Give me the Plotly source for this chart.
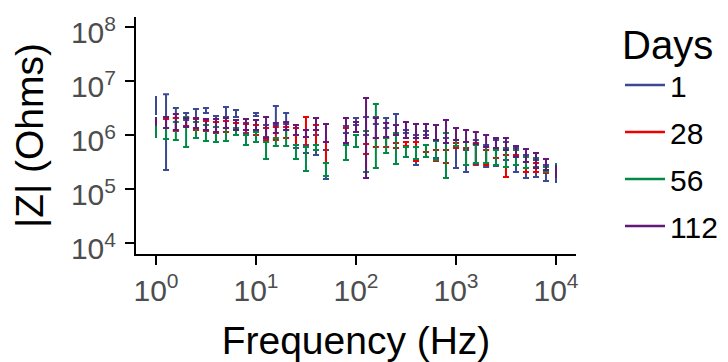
import numpy as np
import plotly.graph_objects as go

# Frequencies (Hz); 63 Hz point absent in the source
freq = [1, 1.26, 1.58, 2.0, 2.51, 3.16, 3.98, 5.01, 6.31, 7.94,
        10, 12.6, 15.8, 20.0, 25.1, 31.6, 39.8, 50.1,
        79.4, 100, 126, 158, 200, 251, 316, 398, 501, 631, 794,
        1000, 1260, 1580, 2000, 2510, 3160, 3980, 5010, 6310, 7940, 10000]

days = ["1", "28", "56", "112"]

d1_lo = [2.35e6, 2.25e5, 2.06e6, 1.9e6, 2.06e6, 2.55e6, 1.74e6, 2.15e6, 2.15e6, 1.09e6,
         2.25e6, 9.2e5, 1.53e6, 1.6e6, 5.75e5, 4.64e5, 4.26e5, 1.53e5,
         1.09e6, 1.53e6, 1.0e6, 1.6e6, 1.35e6, 1.09e6, 1.09e6, 2.78e5, 1.0e6, 3.75e5, 8.8e5,
         2.45e5, 2.06e5, 2.78e5, 2.55e5, 2.67e5, 3.44e5, 2.06e5, 1.6e5, 1.67e5, 1.41e5, 1.29e5]
d1_hi = [5.27e6, 5.7e6, 3.16e6, 2.55e6, 3.03e6, 3.16e6, 2.25e6, 3.3e6, 2.9e6, 1.67e6,
         2.55e6, 1.53e6, 3.44e6, 2.55e6, 1.0e6, 6.5e5, 1.0e6, 5.27e5,
         1.47e6, 2.06e6, 2.15e6, 2.15e6, 2.06e6, 2.45e6, 1.24e6, 1.0e6, 1.19e6, 8.1e5, 1.09e6,
         5.75e5, 5.27e5, 8.1e5, 6.5e5, 8.1e5, 7.4e5, 5.75e5, 4.26e5, 3.44e5, 2.78e5, 2.25e5]

d28_lo = [1.47e6, 1.35e6, 1.19e6, 1.47e6, 1.24e6, 1.19e6, 1.09e6, 1.14e6, 1.0e6, 1.0e6,
          1.0e6, 8.1e5, 8.1e5, 8.8e5, 6.5e5, 6.0e5, 5.27e5, 3.03e5,
          6.5e5, 6.0e5, 4.45e5, 6.0e5, 6.0e5, 5.75e5, 6.25e5, 3.3e5, 4.84e5, 3.3e5, 3.03e5,
          5.75e5, 2.78e5, 2.9e5, 2.78e5, 3.75e5, 1.67e5, 2.78e5, 2.06e5, 2.06e5, 1.98e5, 1.82e5]
d28_hi = [2.06e6, 1.98e6, 2.06e6, 2.06e6, 1.98e6, 1.82e6, 1.74e6, 1.82e6, 1.67e6, 1.6e6,
          1.53e6, 1.35e6, 1.41e6, 1.41e6, 1.35e6, 2.15e6, 1.53e6, 7.4e5,
          1.35e6, 1.0e6, 6.8e5, 8.8e5, 8.8e5, 7.1e5, 7.4e5, 7.4e5, 6.5e5, 5.27e5, 5.27e5,
          7.1e5, 5.75e5, 7.1e5, 5.27e5, 5.27e5, 4.26e5, 4.26e5, 3.16e5, 3.03e5, 2.25e5, 2.45e5]

d56_lo = [8.8e5, 8.4e5, 8.1e5, 6.0e5, 8.8e5, 7.7e5, 7.4e5, 7.7e5, 1.0e6, 6.5e5,
          7.4e5, 3.59e5, 6.25e5, 6.25e5, 3.59e5, 2.15e5, 5.27e5, 1.74e5,
          3.44e5, 6.0e5, 2.06e5, 2.45e5, 4.64e5, 2.9e5, 3.91e5, 3.59e5, 3.91e5, 3.44e5, 1.6e5,
          6.25e5, 2.78e5, 3.03e5, 3.03e5, 2.78e5, 2.55e5, 2.78e5, 2.45e5, 2.55e5, 2.06e5, 1.98e5]
d56_hi = [1.47e6, 1.35e6, 1.74e6, 2.15e6, 1.74e6, 1.53e6, 1.41e6, 1.35e6, 1.35e6, 1.0e6,
          1.14e6, 7.4e5, 8.8e5, 1.24e6, 6.5e5, 6.0e5, 6.5e5, 3.03e5,
          6.5e5, 1.0e6, 1.19e6, 3.75e6, 8.8e5, 1.09e6, 6.0e5, 6.0e5, 6.5e5, 7.7e5, 1.09e6,
          8.1e5, 7.4e5, 6.5e5, 6.0e5, 5.27e5, 5.75e5, 5.27e5, 3.91e5, 3.75e5, 2.55e5, 3.03e5]

d112_lo = [1.47e6, 1.35e6, 1.24e6, 1.41e6, 1.35e6, 1.24e6, 1.14e6, 1.35e6, 1.24e6, 1.24e6,
           1.24e6, 8.8e5, 1.09e6, 1.24e6, 1.0e6, 9.2e5, 1.24e6, 7.4e5,
           7.1e5, 1.14e6, 1.6e5, 8.8e5, 9.2e5, 1.0e6, 8.8e5, 8.8e5, 8.8e5, 8.1e5, 7.1e5,
           8.1e5, 7.4e5, 6.8e5, 6.0e5, 5.75e5, 5.27e5, 3.91e5, 3.16e5, 2.45e5, 2.25e5, 1.6e5]
d112_hi = [2.15e6, 2.15e6, 2.45e6, 2.06e6, 2.06e6, 1.98e6, 1.98e6, 2.06e6, 1.9e6, 1.98e6,
           1.9e6, 2.15e6, 1.67e6, 1.74e6, 1.53e6, 1.24e6, 2.06e6, 1.6e6,
           2.06e6, 1.74e6, 4.84e6, 2.06e6, 1.67e6, 1.53e6, 1.74e6, 1.6e6, 1.6e6, 1.53e6, 1.9e6,
           1.35e6, 1.24e6, 1.14e6, 1.0e6, 8.8e5, 8.8e5, 6.25e5, 5.5e5, 4.64e5, 3.59e5, 2.78e5]

colors = ["#3B4992", "#EE0000", "#008B45", "#631879"]

y_tickvals = [1e4, 1e5, 1e6, 1e7, 1e8]
y_ticktext = ["10<sup>4</sup>", "10<sup>5</sup>", "10<sup>6</sup>", "10<sup>7</sup>", "10<sup>8</sup>"]
x_tickvals = [1, 10, 100, 1000, 10000]
x_ticktext = ["10<sup>0</sup>", "10<sup>1</sup>", "10<sup>2</sup>", "10<sup>3</sup>", "10<sup>4</sup>"]

FONT = "Liberation Sans, Arial, sans-serif"

series = [(d1_lo, d1_hi), (d28_lo, d28_hi), (d56_lo, d56_hi), (d112_lo, d112_hi)]

fig = go.Figure()
f = np.array(freq, dtype=float)
n = len(f)
inner = np.arange(1, n - 1)
ends = np.array([0, n - 1])
for name, (lo, hi), col in zip(days, series, colors):
    lo = np.array(lo)
    hi = np.array(hi)
    mid = np.sqrt(lo * hi)
    for idx, w in ((inner, 3), (ends, 0)):
        fig.add_trace(go.Scatter(
            x=f[idx], y=mid[idx], mode="markers",
            marker=dict(size=1, color="rgba(0,0,0,0)"),
            error_y=dict(type="data", symmetric=False,
                         array=(hi - mid)[idx], arrayminus=(mid - lo)[idx],
                         color=col, thickness=2, width=w),
            showlegend=False, hoverinfo="skip"))

for name, col in zip(days, colors):
    fig.add_trace(go.Scatter(x=[None], y=[None], mode="lines",
                             line=dict(color=col, width=2.5),
                             name=name, legendgroup=name, showlegend=True))

axis_common = dict(showgrid=False, zeroline=False, showline=True, linecolor="black",
                   linewidth=2, ticks="outside", ticklen=9, tickwidth=2, tickcolor="black",
                   automargin=False, ticklabeloverflow="allow",
                   tickfont=dict(family=FONT, size=30, color="#4D4D4D"),
                   title_font=dict(family=FONT, size=39, color="black"))

# page body has an 8px margin, so the figure is offset by (8, 8) in the window
fig.update_layout(
    width=720, height=354,
    margin=dict(l=128, r=152, t=9, b=108, autoexpand=False),
    paper_bgcolor="white", plot_bgcolor="white",
    xaxis=dict(type="log", range=[-0.2, 4.2], tickvals=x_tickvals, ticktext=x_ticktext,
               title=dict(text="Frequency (Hz)", standoff=28), **axis_common),
    yaxis=dict(type="log", range=[3.796, 8.185], tickvals=y_tickvals, ticktext=y_ticktext,
               title=dict(text="|Z| (Ohms)", standoff=18), ticklabelstandoff=3,
               ticklabelshift=6, **axis_common),
    legend=dict(x=1.1, y=1.042, xanchor="left", yanchor="top",
                title=dict(text="Days", font=dict(family=FONT, size=40, color="black")),
                font=dict(family=FONT, size=30, color="black"),
                itemwidth=40,
                tracegroupgap=5, bgcolor="rgba(0,0,0,0)", maxheight=354),
)

fig.write_html("out.html")
